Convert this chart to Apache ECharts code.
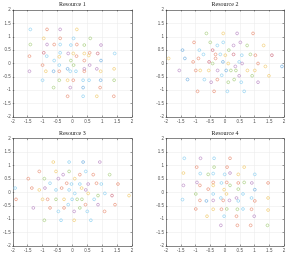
<!DOCTYPE html>
<html><head><meta charset="utf-8">
<script src="https://cdn.jsdelivr.net/npm/echarts@6/dist/echarts.min.js"></script>
<style>html,body{margin:0;padding:0;background:#fff}#c{width:291px;height:257px}</style>
</head><body><div id="c"></div>
<script>
const titles = ['Resource 1','Resource 2','Resource 3','Resource 4'];
const ticks = [-2,-1.5,-1,-0.5,0,0.5,1,1.5,2];

const r1x = [-1.41,-0.85,-0.41,0.15, -0.96,-0.41,0.04,0.6, -1.41,-0.85,-0.61,-0.41,-0.05,0.15,0.40,0.96,
  -0.96,-0.41,-0.14,0.03,0.40,0.58,0.85,1.42, -1.44,-0.86,-0.44,0.14,0.55, -0.61,-0.05,0.40,0.96,
  -1.0,-0.44,0.04,0.58, -0.16,0.40,0.82,1.40, -1.44,-0.89,-0.63,-0.44,-0.07,0.12,0.40,0.95,
  -1.0,-0.44,-0.16,0.03,0.36,0.56,0.95,1.40, -0.63,-0.07,0.36,0.93, -0.16,0.36,0.82,1.39];
const r1y = [1.275,1.275,1.275,1.275, 0.94,0.94,0.94,0.94, 0.71,0.71,0.71,0.71,0.69,0.71,0.69,0.69,
  0.4,0.4,0.375,0.375,0.375,0.4,0.375,0.375, 0.275,0.275,0.25,0.275,0.3, 0.11,0.11,0.11,0.11,
  -0.06,-0.06,-0.06,-0.06, -0.2,-0.2,-0.2,-0.2, -0.29,-0.29,-0.29,-0.29,-0.29,-0.29,-0.29,-0.29,
  -0.625,-0.625,-0.625,-0.625,-0.625,-0.625,-0.625,-0.625, -0.9,-0.9,-0.9,-0.9, -1.225,-1.225,-1.225,-1.225];
const r1g = ['L','O','P','Y', 'Y','O','L','G', 'G','P','O','L','L','O','G','P',
  'R','L','P','Y','Y','O','R','L', 'O','L','Y','O','Y', 'L','G','O','B',
  'O','L','G','P', 'B','P','P','Y', 'P','Y','B','O','L','L','O','Y',
  'L','G','Y','O','L','L','B','G', 'G','P','B','O', 'O','L','Y','O'];

const r2x = [-0.63,-0.06,0.41,0.95, -1.05,-0.50,-0.06,0.52, -0.26,0.29,0.75,1.31, -1.44,-0.87,-0.42,0.13,
  -0.73,-0.32,-0.16,0.01,0.29,0.57,0.86,1.03,1.59, -1.91,-1.36,-0.90,-0.32,
  -1.08,-0.54,-0.42,-0.07,0.11,0.48,0.58,1.12,1.37,1.93, 0.35,
  -1.55,-0.99,-0.84,-0.55,-0.25,0.04,0.20,0.37,0.76,1.01, -0.11,0.48,0.92,1.49,
  -1.27,-0.70,-0.26,0.31, -0.47,0.11,0.55,1.12, -0.93,-0.37,0.08,0.65];
const r2y = [1.125,1.125,1.125,1.125, 0.79,0.79,0.79,0.79, 0.675,0.675,0.675,0.675, 0.5,0.5,0.5,0.5,
  0.34,0.34,0.34,0.31,0.34,0.31,0.34,0.31,0.31, 0.19,0.19,0.19,0.19,
  0.06,0.06,0.0,0.06,0.0,0.06,0.0,0.0,-0.11,-0.11, -0.11,
  -0.26,-0.26,-0.26,-0.26,-0.26,-0.26,-0.26,-0.26,-0.26,-0.26, -0.44,-0.46,-0.46,-0.46,
  -0.6,-0.6,-0.6,-0.6, -0.7,-0.7,-0.7,-0.7, -1.04,-1.04,-1.04,-1.04];
const r2g = ['G','Y','P','O', 'O','G','L','P', 'L','P','G','Y', 'B','L','R','G',
  'L','O','L','Y','R','L','G','O','R', 'Y','B','O','O',
  'O','R','G','B','Y','L','P','O','Y','B', 'P',
  'P','O','Y','Y','P','B','G','G','Y','Y', 'L','P','G','Y',
  'B','L','O','G', 'P','G','L','P', 'O','O','L','L'];

const r3x = [-0.64,-0.11,0.36,0.92, -1.11,-0.55,-0.11,0.45, -0.31,0.25,0.70,1.25, -1.48,-0.94,-0.47,0.08,
  -0.75,-0.19,-0.03,0.25,0.53,0.81,0.97,1.53,
  -1.92,-1.36,-1.11,-0.92,-0.36,-0.55,-0.11,0.08,0.31,0.45,0.53,1.09,1.33,1.90,
  -1.89,-1.0,-0.83,-0.55,-0.28,-0.01,0.16,0.32,0.73,0.86,1.43, -0.14,0.44,0.86,
  -1.31,-0.75,-0.28,0.25, -0.47,0.06,0.50,1.08, -0.94,-0.38,0.06,0.62];
const r3y = [1.13,1.13,1.13,1.13, 0.78,0.78,0.78,0.78, 0.66,0.66,0.66,0.66, 0.51,0.51,0.51,0.51,
  0.34,0.34,0.31,0.31,0.31,0.34,0.31,0.31,
  0.16,0.16,0.09,0.16,0.16,0.09,0.09,-0.04,0.16,0.09,-0.04,-0.04,-0.12,-0.12,
  -0.26,-0.26,-0.26,-0.26,-0.26,-0.26,-0.26,-0.26,-0.26,-0.12,-0.46, -0.46,-0.46,-0.46,
  -0.58,-0.58,-0.58,-0.58, -0.71,-0.71,-0.71,-0.71, -1.04,-1.04,-1.04,-1.04];
const r3g = ['Y','L','B','P', 'O','Y','G','L', 'P','O','O','G', 'O','G','P','Y',
  'L','O','L','L','P','O','L','O',
  'L','O','Y','P','O','L','L','L','Y','P','Y','L','R','Y',
  'O','Y','O','G','Y','L','G','G','L','G','O', 'L','O','P',
  'P','O','O','G', 'L','P','L','O', 'G','L','Y','L'];

const r4x = [-1.38,-0.83,-0.37,0.17, -0.96,-0.37,0.07,0.65,
  -1.41,-0.84,-0.57,-0.40,-0.01,0.17,0.45,1.01, -0.95,-0.40,-0.12,0.06,0.45,0.65,0.91,1.46,
  -1.41,-0.85,-0.40,0.17, -0.57,-0.03,0.45,1.01, -0.99,-0.40,0.05,0.61,
  -1.44,-0.85,-0.63,-0.40,-0.14,-0.06,0.15,0.39,0.45,0.90,1.01,1.46,
  -0.99,-0.40,-0.12,0.06,0.42,0.61,0.90,1.46, -0.61,-0.03,0.39,0.99, -0.14,0.42,0.87,1.44];
const r4y = [1.27,1.27,1.27,1.27, 0.94,0.94,0.94,0.94,
  0.72,0.70,0.67,0.70,0.67,0.72,0.67,0.67, 0.37,0.37,0.35,0.37,0.35,0.37,0.35,0.35,
  0.26,0.26,0.26,0.26, 0.12,0.10,0.12,0.10, -0.06,-0.06,-0.06,-0.06,
  -0.27,-0.30,-0.32,-0.30,-0.21,-0.30,-0.30,-0.21,-0.32,-0.21,-0.32,-0.21,
  -0.62,-0.63,-0.63,-0.62,-0.63,-0.62,-0.63,-0.66, -0.89,-0.89,-0.89,-0.89, -1.23,-1.23,-1.23,-1.23];
const r4g = ['L','P','L','O', 'O','G','O','Y',
  'Y','L','G','L','L','P','Y','L', 'P','O','L','O','O','G','P','O',
  'P','O','Y','G', 'O','Y','G','B', 'G','L','Y','L',
  'L','O','B','P','L','O','P','P','L','L','O','Y',
  'O','Y','O','G','G','L','O','Y', 'Y','L','O','P', 'P','O','O','G'];

const palette = {B:'#6aaade',O:'#e88a70',Y:'#f0c868',P:'#b784c2',G:'#a2cb78',L:'#86cdf0',R:'#cc6a7c'};
const panels = [[r1x,r1y,r1g],[r2x,r2y,r2g],[r3x,r3y,r3g],[r4x,r4y,r4g]];
const boxes = [
  {left:12.7, top:10, width:119.3, height:107},
  {left:166, top:10, width:118, height:107},
  {left:12.7, top:138.7, width:119.3, height:107.3},
  {left:166, top:138.7, width:118, height:107.3}
];
const lineCol = '#3a3a3a';
const grid=[], xAxis=[], yAxis=[], series=[], title=[];
boxes.forEach((b,i)=>{
  grid.push(Object.assign({show:false}, b));
  const base = {type:'value', min:-2, max:2, interval:0.5, gridIndex:i,
    axisLine:{show:true, onZero:false, lineStyle:{color:lineCol, width:0.6}},
    axisTick:{show:true, inside:true, length:1.5, lineStyle:{color:lineCol, width:0.5}}};
  xAxis.push(Object.assign({}, base, {position:'bottom',
    axisLabel:{fontSize:4.5, color:'#555', margin:2.5, fontFamily:'Liberation Sans'},
    splitLine:{show:true, lineStyle:{color:'#e8e8e8', width:0.5}}}));
  yAxis.push(Object.assign({}, base, {position:'left',
    axisLabel:{fontSize:4.5, color:'#555', margin:2, fontFamily:'Liberation Sans'},
    splitLine:{show:true, lineStyle:{color:'#e8e8e8', width:0.5}}}));
  title.push({text:titles[i], left:b.left+b.width/2, top:b.top-8.5, textAlign:'center', padding:0,
    textStyle:{fontFamily:'Liberation Serif', fontSize:6, fontWeight:'normal', color:'#222'}});
});
boxes.forEach((b,i)=>{
  const base = {type:'value', min:-2, max:2, interval:0.5, gridIndex:i,
    axisLine:{show:true, onZero:false, lineStyle:{color:lineCol, width:0.6}},
    axisTick:{show:true, inside:true, length:1.5, lineStyle:{color:lineCol, width:0.5}},
    axisLabel:{show:false}, splitLine:{show:false}};
  xAxis.push(Object.assign({}, base, {position:'top'}));
  yAxis.push(Object.assign({}, base, {position:'right'}));
});
panels.forEach((p,i)=>{
  const [xs,ys,gs]=p;
  series.push({type:'scatter', xAxisIndex:i, yAxisIndex:i, symbol:'circle', symbolSize:2.8,
    silent:true, animation:false,
    data: xs.map((x,k)=>({value:[x,ys[k]], itemStyle:{color:'rgba(255,255,255,0)', borderColor:palette[gs[k]], borderWidth:0.8}}))});
});
const chart = echarts.init(document.getElementById('c'), null, {renderer:'canvas'});
chart.setOption({animation:false, title, grid, xAxis, yAxis, series});
</script></body></html>
